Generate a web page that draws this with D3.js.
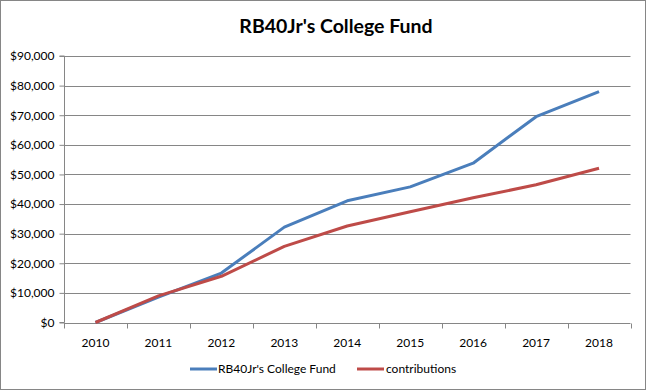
<!DOCTYPE html>
<html><head><meta charset="utf-8">
<script src="https://cdn.jsdelivr.net/npm/d3@7"></script>
<style>body{margin:0;background:#fff}svg{display:block}text{font-family:Lato,"Open Sans",sans-serif}</style>
</head><body><svg id="c" width="646" height="390"></svg>
<script>
const years = ["2010","2011","2012","2013","2014","2015","2016","2017","2018"];
const fund = [0, 8600, 16700, 32200, 41100, 45800, 53800, 69500, 78000];
const contributions = [0, 9000, 15600, 25700, 32600, 37400, 42100, 46500, 52100];
const yTicks = [0,10000,20000,30000,40000,50000,60000,70000,80000,90000];
const seriesNames = ["RB40Jr's College Fund","contributions"];
const colors = ["#4A7EBB","#BE4B48"];

const svg = d3.select("#c");
svg.append("rect").attr("x",0.5).attr("y",0.5).attr("width",645).attr("height",389).attr("fill","#fff").attr("stroke","#868686");
const L=64,R=630.5,T=56,B=322.5;
const x = d3.scaleBand().domain(years).range([L,R]);
const y = d3.scaleLinear().domain([0,90000]).range([B,T]);

svg.append("text").attr("x",336).attr("y",33).attr("text-anchor","middle").attr("font-size",19.5).attr("font-weight","bold").attr("fill","#000").text("RB40Jr's College Fund");

const g = svg.append("g");
g.selectAll(".grid").data(yTicks.slice(1)).join("line").attr("x1",L).attr("x2",R).attr("y1",d=>Math.round(y(d))+0.5).attr("y2",d=>Math.round(y(d))+0.5).attr("stroke","#868686");

const ya = svg.append("g").attr("transform",`translate(${L+0.5},0)`).call(d3.axisLeft(y).tickValues(yTicks).tickSize(5).tickFormat(d=>"$"+d3.format(",")(d)));
ya.select(".domain").attr("stroke","#868686").attr("d",`M-5,${B}H0V${T}H-5`);
ya.selectAll(".tick line").attr("stroke","#868686");
ya.selectAll(".tick text").attr("font-size",12).attr("fill","#000").attr("x",-10).attr("font-family","Lato");

const xa = svg.append("g").attr("transform",`translate(0,${Math.round(B)+0.5})`);
xa.append("line").attr("x1",L).attr("x2",R).attr("stroke","#868686");
xa.selectAll(".tk").data(years.concat(["end"])).join("line").attr("x1",(d,i)=>Math.round(L+i*x.step())+0.5).attr("x2",(d,i)=>Math.round(L+i*x.step())+0.5).attr("y1",0).attr("y2",5).attr("stroke","#868686");
xa.selectAll("text").data(years).join("text").attr("x",d=>x(d)+x.bandwidth()/2).attr("y",23).attr("text-anchor","middle").attr("font-size",12).attr("fill","#000").text(d=>d);

const line = d3.line().x((d,i)=>x(years[i])+x.bandwidth()/2).y(d=>y(d));
[fund,contributions].forEach((s,i)=>{
  svg.append("path").datum(s).attr("d",line).attr("fill","none").attr("stroke",colors[i]).attr("stroke-width",3).attr("stroke-linejoin","round");
});

const leg = [{x:190,tx:218},{x:357,tx:386}];
seriesNames.forEach((n,i)=>{
  svg.append("line").attr("x1",leg[i].x).attr("x2",leg[i].x+27).attr("y1",369).attr("y2",369).attr("stroke",colors[i]).attr("stroke-width",3);
  svg.append("text").attr("x",leg[i].tx).attr("y",373).attr("font-size",12).attr("fill","#000").text(n);
});
</script></body></html>
